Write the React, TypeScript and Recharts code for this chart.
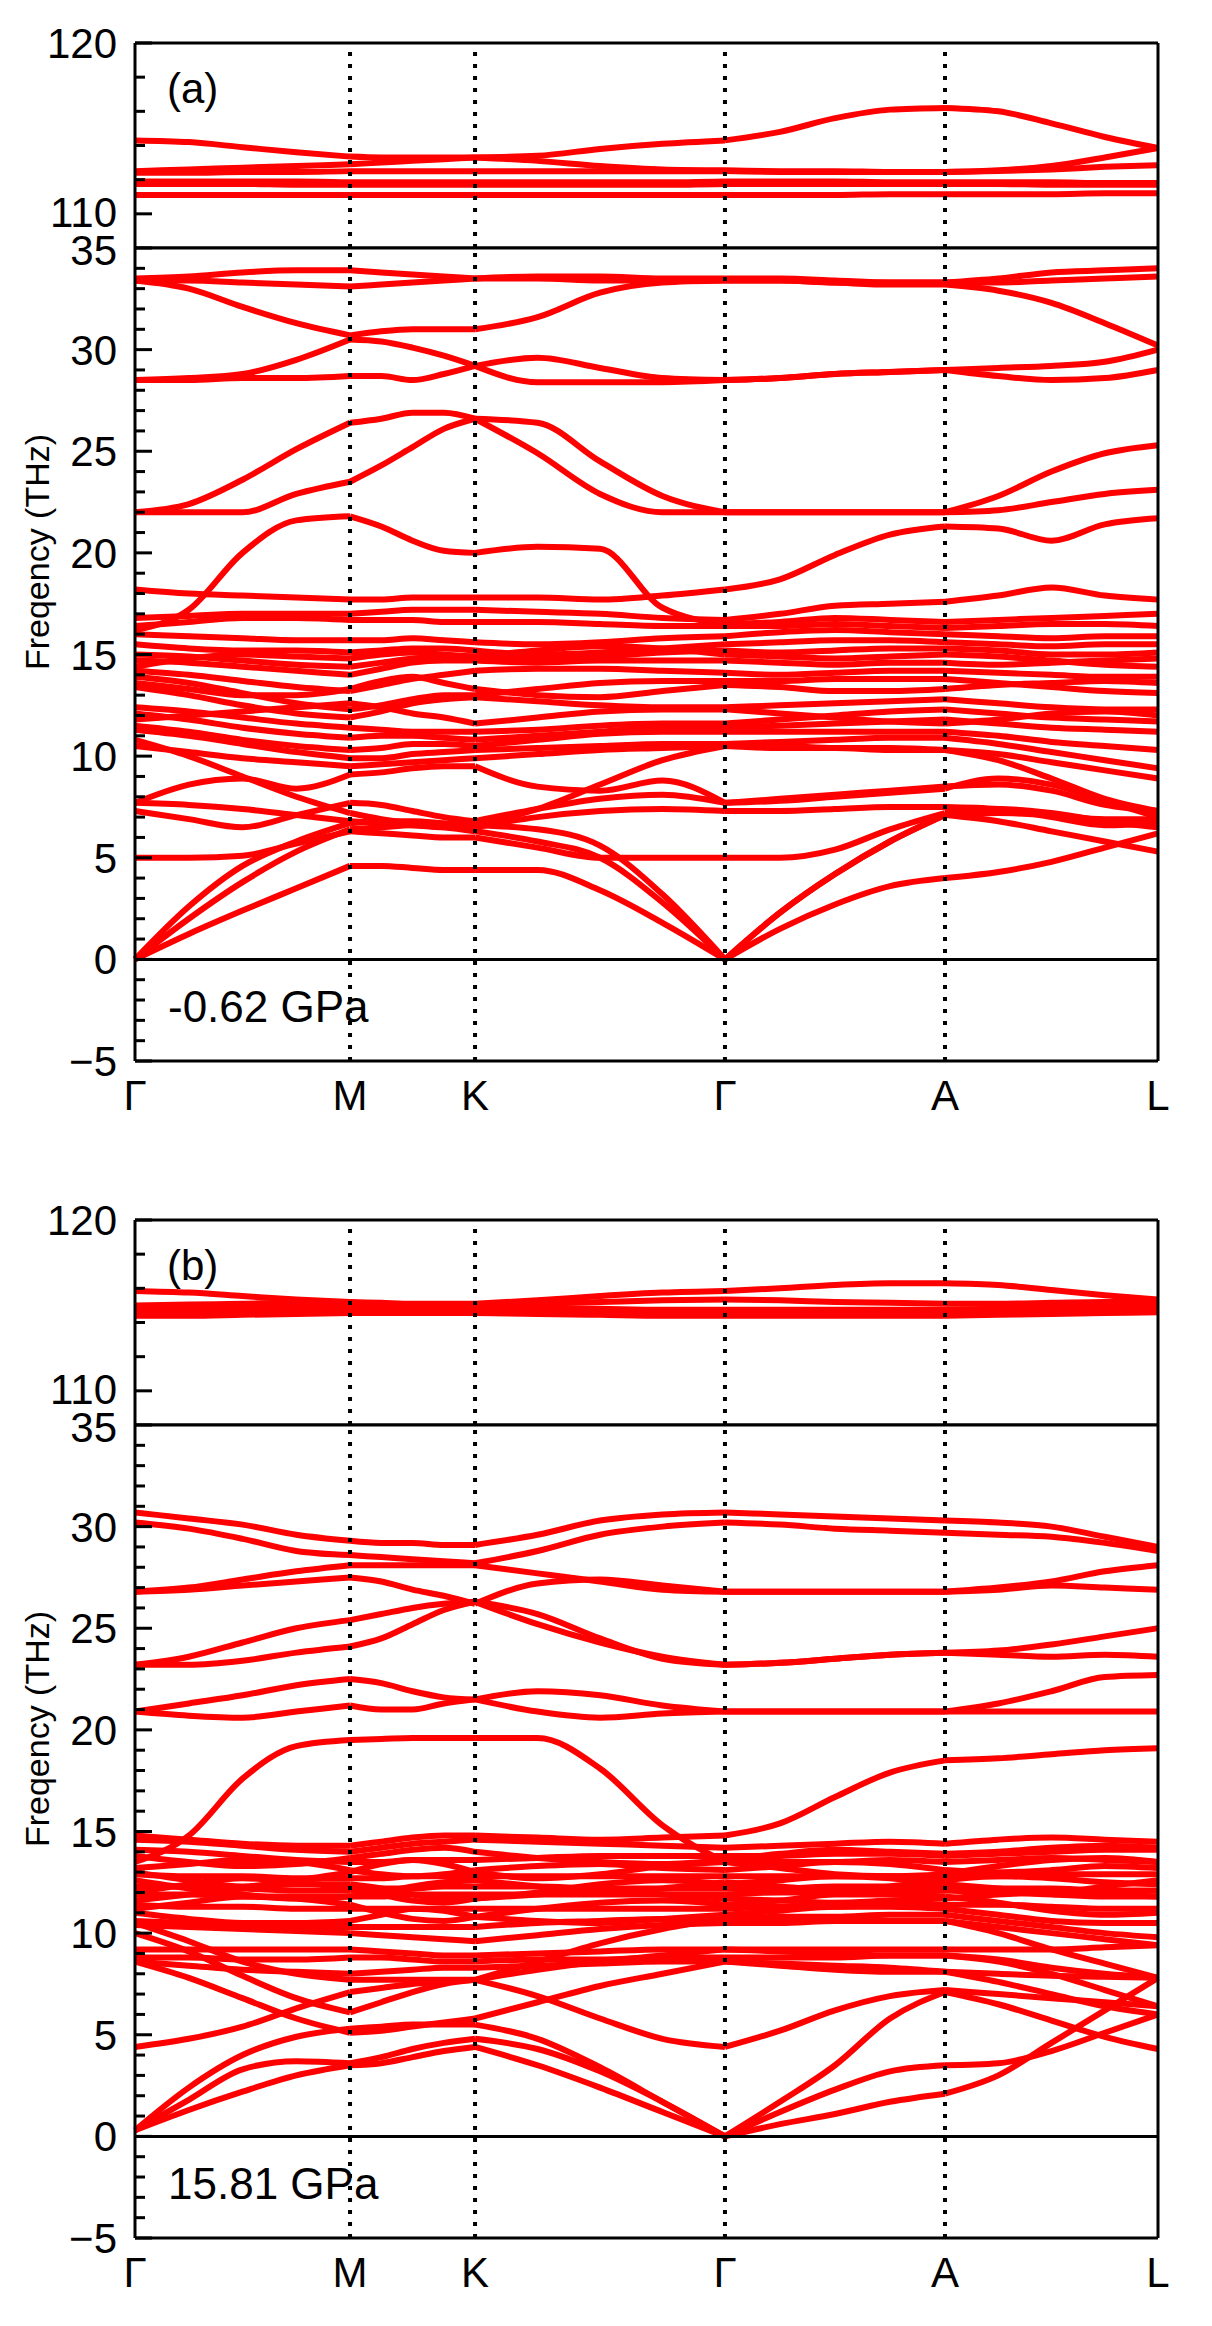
import React from "react";
import { LineChart, Line, XAxis, YAxis, ReferenceLine } from "recharts";

const FONT = "'Liberation Sans', Arial, Helvetica, sans-serif";
const RED = "#ff0000";

// k-path: Γ M K Γ A L, four samples per segment
const kPath = [
  0, 0.0526, 0.1051, 0.1577, 0.2102,
  0.2408, 0.2713, 0.3019, 0.3324,
  0.3935, 0.4546, 0.5156, 0.5767,
  0.6305, 0.6843, 0.738, 0.7918,
  0.8439, 0.8959, 0.948, 1.0,
];
const kTicks = [0, 0.2102, 0.3324, 0.5767, 0.7918, 1.0];
const kLabels = ["Γ", "M", "K", "Γ", "A", "L"];
// first sample index of each path segment (Γ-M, M-K, K-Γ, Γ-A, A-L)
const segStart = [0, 4, 8, 12, 16];

const highTicks = [110, 112, 114, 116, 118, 120];
const highMajor = [110, 120];
const lowTicks = [
  -5, -4, -3, -2, -1, 0, 1, 2, 3, 4, 5, 6, 7, 8, 9, 10, 11, 12, 13, 14, 15,
  16, 17, 18, 19, 20, 21, 22, 23, 24, 25, 26, 27, 28, 29, 30, 31, 32, 33, 34, 35,
];
const lowMajor = [-5, 0, 5, 10, 15, 20, 25, 30, 35];

// ---------- panel (a), -0.62 GPa ----------
const aH1 = [114.3, 114.2, 113.9, 113.6, 113.35, 113.3, 113.3, 113.3, 113.3, 113.4, 113.8, 114.1, 114.3, 114.8, 115.6, 116.1, 116.2, 116.0, 115.3, 114.5, 113.85];
const aH2 = [112.5, 112.6, 112.7, 112.8, 112.9, 113.0, 113.1, 113.2, 113.3, 113.1, 112.8, 112.6, 112.55, 112.5, 112.5, 112.45, 112.45, 112.55, 112.8, 113.3, 113.85];
const aH3 = [112.4, 112.4, 112.45, 112.45, 112.5, 112.5, 112.5, 112.5, 112.5, 112.5, 112.5, 112.5, 112.5, 112.45, 112.45, 112.45, 112.45, 112.5, 112.6, 112.75, 112.85];
const aH4 = [111.9, 111.9, 111.9, 111.9, 111.85, 111.85, 111.85, 111.85, 111.85, 111.85, 111.85, 111.85, 111.9, 111.9, 111.9, 111.85, 111.85, 111.85, 111.85, 111.8, 111.8];
const aH5 = [111.75, 111.75, 111.75, 111.7, 111.7, 111.7, 111.7, 111.7, 111.7, 111.7, 111.7, 111.7, 111.75, 111.75, 111.75, 111.75, 111.75, 111.75, 111.7, 111.7, 111.7];
const aH6 = [111.1, 111.1, 111.1, 111.1, 111.1, 111.1, 111.1, 111.1, 111.1, 111.1, 111.1, 111.1, 111.1, 111.1, 111.1, 111.15, 111.15, 111.15, 111.15, 111.2, 111.2];

const aT1 = [33.5, 33.6, 33.8, 33.9, 33.9, 33.8, 33.7, 33.6, 33.5, 33.6, 33.6, 33.5, 33.5, 33.5, 33.4, 33.3, 33.3, 33.5, 33.8, 33.9, 34.0];
const aT2 = [33.4, 33.4, 33.3, 33.2, 33.1, 33.2, 33.3, 33.4, 33.5, 33.5, 33.4, 33.4, 33.4, 33.4, 33.3, 33.3, 33.3, 33.3, 33.4, 33.5, 33.6];
const aT3 = [33.4, 33.0, 32.1, 31.3, 30.7, 30.9, 31.0, 31.0, 31.0, 31.6, 32.8, 33.3, 33.4, 33.4, 33.3, 33.2, 33.2, 32.9, 32.3, 31.3, 30.2];
const aT4 = [28.5, 28.6, 28.8, 29.5, 30.5, 30.4, 30.1, 29.7, 29.2, 29.6, 29.1, 28.6, 28.5, 28.6, 28.8, 28.9, 29.0, 29.1, 29.2, 29.4, 30.0];
const aT5 = [28.5, 28.5, 28.6, 28.6, 28.7, 28.7, 28.5, 28.8, 29.2, 28.4, 28.4, 28.4, 28.5, 28.6, 28.8, 28.9, 29.0, 28.7, 28.5, 28.6, 29.0];
const aU1 = [22.0, 22.4, 23.6, 25.1, 26.4, 26.6, 26.9, 26.9, 26.6, 24.9, 22.9, 22.0, 22.0, 22.0, 22.0, 22.0, 22.0, 22.8, 24.0, 24.9, 25.3];
const aU2 = [22.0, 22.0, 22.0, 22.9, 23.5, 24.3, 25.2, 26.1, 26.6, 26.4, 24.5, 22.8, 22.0, 22.0, 22.0, 22.0, 22.0, 22.1, 22.5, 22.9, 23.1];
const aC = [16.2, 17.2, 20.0, 21.6, 21.8, 21.3, 20.6, 20.1, 20.0, 20.3, 20.2, 17.3, 16.5, 16.6, 16.8, 16.7, 16.6, 16.7, 16.8, 16.9, 17.0];
const aD = [18.2, 18.0, 17.9, 17.8, 17.7, 17.7, 17.8, 17.8, 17.8, 17.8, 17.7, 17.9, 18.2, 18.7, 19.9, 20.9, 21.3, 21.2, 20.6, 21.4, 21.7];
const aE = [16.8, 16.9, 17.0, 17.0, 17.0, 17.1, 17.2, 17.2, 17.2, 17.1, 17.0, 16.8, 16.7, 17.0, 17.4, 17.5, 17.6, 17.9, 18.3, 17.9, 17.7];

const aM0 = [16.4, 16.6, 16.8, 16.8, 16.7, 16.7, 16.7, 16.6, 16.6, 16.6, 16.5, 16.4, 16.4, 16.4, 16.5, 16.4, 16.3, 16.4, 16.5, 16.5, 16.4];
const aM1 = [16.0, 15.9, 15.8, 15.7, 15.7, 15.7, 15.8, 15.7, 15.6, 15.5, 15.6, 15.8, 15.9, 16.1, 16.2, 16.1, 16.0, 15.9, 15.8, 15.9, 15.9];
const aM2 = [15.5, 15.3, 15.2, 15.2, 15.1, 15.2, 15.3, 15.3, 15.2, 15.0, 15.1, 15.3, 15.5, 15.6, 15.7, 15.7, 15.6, 15.5, 15.4, 15.5, 15.5];
const aM3 = [15.0, 14.9, 14.7, 14.5, 14.4, 14.6, 14.8, 14.9, 14.9, 14.8, 14.9, 15.1, 15.2, 15.1, 15.2, 15.3, 15.3, 15.2, 15.0, 15.0, 15.1];
const aM4 = [14.7, 14.6, 14.4, 14.2, 14.0, 14.3, 14.6, 14.7, 14.7, 14.6, 14.7, 14.7, 14.7, 14.6, 14.5, 14.6, 14.6, 14.5, 14.6, 14.7, 14.8];
const aM5 = [14.2, 14.0, 13.7, 13.4, 13.2, 13.5, 13.8, 14.0, 14.2, 14.3, 14.3, 14.2, 14.1, 14.0, 14.1, 14.2, 14.2, 14.1, 14.0, 13.9, 13.9];
const aM6 = [13.9, 13.6, 13.1, 12.6, 12.3, 12.5, 12.8, 13.0, 13.0, 13.3, 13.6, 13.7, 13.7, 13.7, 13.8, 13.8, 13.8, 13.6, 13.4, 13.2, 13.1];
const aM7 = [13.4, 13.0, 12.5, 12.1, 11.9, 12.2, 12.6, 12.8, 12.9, 12.7, 12.5, 12.4, 12.4, 12.5, 12.6, 12.7, 12.8, 12.6, 12.4, 12.3, 12.3];
const aM8 = [12.4, 12.2, 11.9, 11.6, 11.4, 11.3, 11.2, 11.2, 11.2, 11.3, 11.5, 11.6, 11.6, 11.8, 12.0, 12.2, 12.3, 12.1, 11.9, 11.8, 11.7];
const aM9 = [12.1, 11.8, 11.4, 11.1, 10.9, 11.0, 11.0, 10.9, 10.8, 11.0, 11.2, 11.4, 11.4, 11.5, 11.6, 11.7, 11.8, 11.6, 11.4, 11.3, 11.2];
const aM10 = [11.5, 11.2, 10.8, 10.5, 10.3, 10.4, 10.6, 10.6, 10.5, 10.8, 11.1, 11.2, 11.2, 11.2, 11.2, 11.2, 11.2, 11.0, 10.7, 10.5, 10.3];
const aM11 = [11.3, 11.0, 10.6, 10.2, 9.9, 9.9, 10.1, 10.2, 10.3, 10.4, 10.5, 10.6, 10.6, 10.7, 10.8, 10.9, 10.9, 10.6, 10.2, 9.8, 9.4];
const aM12 = [10.5, 10.2, 9.9, 9.7, 9.5, 9.6, 9.7, 9.8, 9.9, 10.1, 10.3, 10.4, 10.5, 10.4, 10.4, 10.3, 10.3, 10.1, 9.7, 9.3, 8.9];
const aX1 = [14.4, 14.8, 15.0, 14.9, 14.8, 15.0, 15.1, 15.0, 14.9, 15.2, 15.4, 15.3, 15.0, 14.9, 14.8, 14.9, 15.0, 14.9, 14.7, 14.5, 14.4];
const aX2 = [13.6, 13.3, 13.0, 13.0, 13.3, 13.7, 13.9, 13.6, 13.3, 13.0, 12.9, 13.2, 13.5, 13.4, 13.2, 13.2, 13.3, 13.5, 13.6, 13.7, 13.6];
const aX3 = [11.8, 12.0, 12.2, 12.4, 12.6, 12.4, 12.1, 11.9, 11.6, 11.9, 12.2, 12.3, 12.3, 12.1, 11.9, 11.7, 11.6, 11.8, 12.1, 12.2, 12.0];

const aO1 = [5.0, 5.0, 5.1, 5.7, 6.3, 6.2, 6.1, 6.0, 6.0, 5.5, 5.0, 5.0, 5.0, 5.0, 5.4, 6.4, 7.2, 7.4, 7.2, 6.8, 6.5];
const aO2 = [7.3, 6.9, 6.5, 7.1, 7.7, 7.6, 7.3, 7.0, 6.8, 7.4, 7.9, 8.1, 7.7, 7.9, 8.1, 8.3, 8.5, 8.6, 8.3, 7.6, 7.3];
const aO3 = [7.7, 8.6, 8.9, 8.4, 9.1, 9.2, 9.4, 9.5, 9.5, 8.5, 8.3, 8.8, 7.7, 7.8, 8.0, 8.2, 8.4, 8.9, 8.6, 7.8, 7.0];
const aO4 = [7.7, 7.6, 7.4, 7.1, 6.8, 6.7, 6.6, 6.5, 6.5, 7.0, 7.3, 7.4, 7.3, 7.3, 7.4, 7.5, 7.5, 7.4, 7.0, 6.6, 6.7];
const aO5 = [10.8, 10.0, 9.0, 8.0, 7.2, 6.9, 6.7, 6.6, 6.6, 7.4, 8.6, 9.8, 10.5, 10.5, 10.4, 10.4, 10.3, 9.8, 8.9, 7.9, 7.3];
const aL1 = [0, 1.25, 2.4, 3.5, 4.6, 4.6, 4.5, 4.4, 4.4, 4.4, 3.4, 1.8, 0, 1.5, 2.7, 3.6, 4.0, 4.3, 4.8, 5.5, 6.2];
const aL2 = [0, 2.0, 3.8, 5.3, 6.4, 6.5, 6.6, 6.5, 6.3, 5.8, 5.0, 2.8, 0, 2.3, 4.2, 5.8, 7.1, 7.2, 7.1, 6.9, 6.9];
const aL3 = [0, 2.6, 4.6, 5.8, 6.7, 6.8, 6.8, 6.7, 6.6, 6.4, 5.6, 3.2, 0, 2.3, 4.2, 5.8, 7.1, 6.8, 6.3, 5.8, 5.3];

// ---------- panel (b), 15.81 GPa ----------
const bH1 = [115.85, 115.75, 115.55, 115.35, 115.2, 115.15, 115.1, 115.1, 115.1, 115.3, 115.55, 115.75, 115.85, 116.0, 116.2, 116.3, 116.3, 116.2, 115.9, 115.6, 115.35];
const bH2 = [115.0, 115.05, 115.1, 115.15, 115.15, 115.1, 115.05, 115.0, 115.0, 115.1, 115.2, 115.3, 115.35, 115.3, 115.2, 115.15, 115.1, 115.1, 115.15, 115.2, 115.2];
const bH3 = [114.75, 114.75, 114.8, 114.85, 114.9, 114.9, 114.9, 114.9, 114.9, 114.85, 114.8, 114.75, 114.75, 114.75, 114.75, 114.75, 114.75, 114.8, 114.85, 114.9, 114.95];
const bH4 = [114.55, 114.55, 114.6, 114.65, 114.7, 114.7, 114.7, 114.7, 114.7, 114.65, 114.6, 114.55, 114.55, 114.55, 114.55, 114.55, 114.55, 114.6, 114.65, 114.7, 114.75];
const bH5 = [114.4, 114.4, 114.45, 114.5, 114.55, 114.55, 114.55, 114.55, 114.55, 114.5, 114.45, 114.4, 114.4, 114.4, 114.4, 114.4, 114.4, 114.45, 114.5, 114.55, 114.6];

const bT1 = [30.7, 30.4, 30.1, 29.6, 29.3, 29.2, 29.2, 29.1, 29.1, 29.6, 30.3, 30.6, 30.7, 30.6, 30.5, 30.4, 30.3, 30.2, 30.0, 29.5, 29.0];
const bT2 = [30.2, 29.9, 29.4, 28.8, 28.6, 28.5, 28.4, 28.3, 28.2, 28.8, 29.6, 30.0, 30.2, 30.1, 29.9, 29.8, 29.7, 29.6, 29.5, 29.2, 28.8];
const bT3 = [26.8, 27.0, 27.4, 27.8, 28.1, 28.1, 28.1, 28.1, 28.1, 27.7, 27.3, 26.9, 26.8, 26.8, 26.8, 26.8, 26.8, 27.0, 27.3, 27.8, 28.1];
const bT4 = [26.8, 26.9, 27.1, 27.3, 27.5, 27.3, 26.9, 26.6, 26.2, 27.2, 27.4, 27.1, 26.8, 26.8, 26.8, 26.8, 26.8, 26.9, 27.1, 27.0, 26.9];
const bT5 = [23.2, 23.6, 24.3, 25.0, 25.4, 25.7, 26.0, 26.2, 26.3, 25.2, 24.3, 23.6, 23.2, 23.3, 23.5, 23.7, 23.8, 23.9, 24.2, 24.6, 25.0];
const bT6 = [23.2, 23.2, 23.4, 23.8, 24.1, 24.5, 25.2, 25.9, 26.3, 25.7, 24.5, 23.5, 23.2, 23.3, 23.5, 23.7, 23.8, 23.7, 23.6, 23.7, 23.6];
const bT7 = [20.9, 21.3, 21.7, 22.2, 22.5, 22.3, 21.9, 21.6, 21.5, 21.9, 21.7, 21.2, 20.9, 20.9, 20.9, 20.9, 20.9, 21.3, 21.9, 22.6, 22.7];
const bT8 = [20.9, 20.7, 20.6, 20.9, 21.2, 21.0, 21.0, 21.3, 21.5, 20.9, 20.6, 20.8, 20.9, 20.9, 20.9, 20.9, 20.9, 20.9, 20.9, 20.9, 20.9];
const bP9 = [13.5, 14.8, 17.6, 19.2, 19.5, 19.55, 19.6, 19.6, 19.6, 19.6, 18.1, 15.3, 13.5, 13.5, 13.5, 13.6, 13.5, 13.6, 13.7, 13.6, 13.5];
const bP10 = [14.8, 14.6, 14.4, 14.3, 14.3, 14.5, 14.7, 14.8, 14.8, 14.7, 14.6, 14.7, 14.8, 15.4, 16.7, 17.9, 18.5, 18.6, 18.8, 19.0, 19.1];

const bM0 = [14.6, 14.5, 14.3, 14.1, 14.0, 14.2, 14.4, 14.5, 14.6, 14.5, 14.4, 14.3, 14.2, 14.3, 14.4, 14.5, 14.4, 14.6, 14.7, 14.6, 14.5];
const bM1 = [14.1, 14.0, 13.8, 13.6, 13.5, 13.5, 13.6, 13.6, 13.6, 13.7, 13.8, 13.8, 13.8, 13.8, 13.9, 13.9, 13.8, 13.9, 14.0, 14.1, 14.1];
const bM2 = [13.2, 13.4, 13.6, 13.5, 13.1, 12.9, 12.8, 12.9, 13.1, 13.3, 13.4, 13.2, 13.1, 13.3, 13.5, 13.4, 13.1, 13.0, 13.1, 13.3, 13.2];
const bM3 = [12.9, 12.8, 12.8, 12.7, 12.7, 12.7, 12.8, 12.8, 12.8, 12.8, 12.8, 12.8, 12.8, 12.8, 12.8, 12.8, 12.8, 12.8, 12.9, 12.9, 12.9];
const bM4 = [12.6, 12.2, 11.9, 11.7, 11.8, 12.0, 12.3, 12.5, 12.6, 12.3, 12.0, 12.2, 12.5, 12.3, 12.1, 12.3, 12.6, 12.8, 12.7, 12.5, 12.4];
const bM5 = [12.3, 12.3, 12.2, 12.1, 12.1, 12.2, 12.2, 12.3, 12.3, 12.3, 12.2, 12.2, 12.2, 12.2, 12.3, 12.3, 12.3, 12.2, 12.2, 12.1, 12.1];
const bM6 = [11.9, 11.9, 11.8, 11.8, 11.8, 11.8, 11.9, 11.9, 11.9, 11.9, 11.9, 11.9, 11.9, 12.0, 12.0, 12.1, 12.1, 12.0, 11.9, 11.8, 11.8];
const bM7 = [11.6, 11.9, 12.2, 12.4, 12.4, 12.2, 11.9, 11.7, 11.7, 11.9, 12.1, 11.9, 11.7, 11.6, 11.5, 11.6, 11.7, 11.9, 12.0, 11.9, 11.8];
const bM8 = [11.4, 11.3, 11.3, 11.2, 11.2, 11.2, 11.2, 11.2, 11.2, 11.2, 11.2, 11.2, 11.2, 11.3, 11.3, 11.4, 11.4, 11.4, 11.3, 11.2, 11.2];
const bM9 = [11.0, 10.7, 10.5, 10.5, 10.6, 10.9, 11.2, 11.1, 10.8, 10.6, 10.5, 10.7, 10.9, 11.1, 11.3, 11.3, 11.2, 10.9, 10.6, 10.5, 10.5];
const bM10 = [10.6, 10.5, 10.4, 10.3, 10.3, 10.3, 10.3, 10.3, 10.3, 10.5, 10.6, 10.7, 10.7, 10.8, 10.8, 10.9, 10.9, 10.6, 10.3, 10.0, 9.8];
const bM11 = [10.4, 10.3, 10.2, 10.1, 10.0, 9.9, 9.8, 9.7, 9.6, 9.9, 10.2, 10.4, 10.5, 10.5, 10.6, 10.6, 10.6, 10.3, 10.0, 9.7, 9.4];
const bX1 = [13.0, 12.6, 12.3, 12.6, 13.0, 13.4, 13.6, 13.4, 13.0, 12.7, 12.9, 13.3, 13.5, 13.2, 12.9, 12.8, 12.9, 13.3, 13.6, 13.7, 13.5];
const bX2 = [12.0, 12.4, 12.7, 12.5, 12.2, 11.9, 11.6, 11.5, 11.7, 12.0, 12.4, 12.6, 12.4, 12.6, 12.8, 12.7, 12.4, 12.2, 12.0, 12.3, 12.6];
const bX3 = [11.2, 11.5, 11.8, 11.7, 11.4, 11.0, 10.7, 10.6, 10.8, 11.2, 11.5, 11.6, 11.4, 11.6, 11.9, 11.9, 11.8, 11.5, 11.1, 10.9, 11.0];
const bX4 = [13.8, 13.5, 13.3, 13.4, 13.7, 13.9, 14.1, 14.2, 14.0, 13.7, 13.5, 13.4, 13.6, 13.9, 14.1, 14.0, 13.9, 14.0, 14.2, 14.3, 14.2];

const bO1 = [9.2, 9.2, 9.2, 9.2, 9.2, 9.1, 9.0, 8.9, 8.9, 9.0, 9.1, 9.2, 9.2, 9.2, 9.2, 9.2, 9.2, 9.2, 9.2, 9.3, 9.4];
const bO2 = [8.8, 8.8, 8.7, 8.7, 8.8, 8.8, 8.7, 8.6, 8.6, 8.7, 8.7, 8.8, 8.8, 8.8, 8.8, 8.9, 8.9, 8.6, 8.0, 7.2, 6.4];
const bO3 = [8.6, 8.4, 8.2, 8.1, 8.0, 8.1, 8.2, 8.3, 8.3, 8.4, 8.5, 8.6, 8.6, 8.5, 8.4, 8.3, 8.1, 7.6, 7.0, 6.4, 6.0];
const bO4 = [10.5, 9.6, 8.6, 8.0, 7.7, 7.7, 7.7, 7.7, 7.7, 8.6, 9.5, 10.2, 10.7, 10.7, 10.7, 10.6, 10.6, 10.0, 9.2, 8.5, 7.8];
const bD1 = [8.6, 7.8, 6.8, 5.8, 5.1, 5.2, 5.4, 5.6, 5.8, 6.6, 7.4, 8.0, 8.6, 8.4, 8.2, 8.1, 8.1, 8.0, 7.9, 7.85, 7.8];
const bD2 = [10.0, 9.1, 7.9, 6.8, 6.1, 6.6, 7.1, 7.5, 7.7, 8.2, 8.6, 8.9, 9.2, 9.1, 9.0, 8.9, 8.9, 8.7, 8.3, 8.0, 7.8];
const bO5 = [4.4, 4.8, 5.4, 6.3, 7.1, 7.3, 7.5, 7.6, 7.7, 6.9, 5.8, 4.8, 4.4, 5.2, 6.2, 6.9, 7.2, 7.0, 6.8, 6.6, 6.4];
const bA1 = [0.3, 1.3, 2.2, 3.0, 3.5, 3.6, 3.9, 4.2, 4.4, 3.5, 2.4, 1.2, 0, 0.6, 1.1, 1.7, 2.1, 3.0, 4.6, 6.2, 7.8];
const bA2 = [0.3, 1.8, 3.3, 3.7, 3.6, 3.9, 4.3, 4.6, 4.8, 4.3, 3.2, 1.7, 0, 1.2, 2.3, 3.2, 3.5, 3.6, 4.2, 5.1, 6.0];
const bA3 = [0.3, 2.4, 4.0, 4.9, 5.3, 5.4, 5.5, 5.5, 5.5, 4.8, 3.4, 1.7, 0, 1.7, 3.5, 5.8, 7.1, 6.5, 5.7, 4.9, 4.3];

const highA = [aH1, aH2, aH3, aH4, aH5, aH6];
const lowA = [
  aT1, aT2, aT3, aT4, aT5, aU1, aU2, aC, aD, aE,
  aM0, aM1, aM2, aM3, aM4, aM5, aM6, aM7, aM8, aM9, aM10, aM11, aM12,
  aX1, aX2, aX3,
  aO1, aO2, aO3, aO4, aO5, aL1, aL2, aL3,
];
const highB = [bH1, bH2, bH3, bH4, bH5];
const lowB = [
  bT1, bT2, bT3, bT4, bT5, bT6, bT7, bT8, bP9, bP10,
  bM0, bM1, bM2, bM3, bM4, bM5, bM6, bM7, bM8, bM9, bM10, bM11,
  bX1, bX2, bX3, bX4,
  bO1, bO2, bO3, bO4, bD1, bD2, bO5, bA1, bA2, bA3,
];

// one key per band and path segment, so each segment is smoothed on its own
function toRows(bands: number[][]) {
  return kPath.map((k, i) => {
    const row: Record<string, number | null> = { k };
    bands.forEach((b, j) => {
      segStart.forEach((s, n) => {
        row[`b${j}_${n}`] = i >= s && i <= s + 4 ? b[i] : null;
      });
    });
    return row;
  });
}

const fmt = (v: number) => (v < 0 ? "\u2212" + Math.abs(v) : String(v));

function LeftTick(props: any) {
  const { x, y, payload, majors } = props;
  const v = payload.value;
  const major = majors.includes(v);
  const dy = v === 110 ? 13 : v === 35 ? 17 : 15;
  return (
    <g>
      <line x1={x} x2={x + (major ? 17 : 10)} y1={y} y2={y} stroke="#000" strokeWidth={3} />
      {major && (
        <text x={x - 18} y={y + dy} textAnchor="end" fontSize={42} fontFamily={FONT} fill="#000">
          {fmt(v)}
        </text>
      )}
    </g>
  );
}

function RightTick(props: any) {
  const { x, y, payload, majors } = props;
  const major = majors.includes(payload.value);
  return <line x1={x} x2={x - (major ? 15 : 9)} y1={y} y2={y} stroke="#000" strokeWidth={3} />;
}

function BottomTick(props: any) {
  const { x, y, payload } = props;
  const i = kTicks.indexOf(payload.value);
  return (
    <text x={x} y={y + 49} textAnchor="middle" fontSize={42} fontFamily={FONT} fill="#000">
      {kLabels[i]}
    </text>
  );
}

const frame = { stroke: "#000", strokeWidth: 3 };

function bandLines(bands: number[][]) {
  const out: React.ReactNode[] = [];
  bands.forEach((_, j) => {
    segStart.forEach((_s, n) => {
      out.push(
        <Line
          key={`${j}_${n}`}
          yAxisId="l"
          dataKey={`b${j}_${n}`}
          type="monotone"
          stroke={RED}
          strokeWidth={6}
          dot={false}
          activeDot={false}
          connectNulls={false}
          isAnimationActive={false}
        />
      );
    });
  });
  return out;
}

function dotted() {
  return kTicks.slice(1, 5).map((x) => (
    <ReferenceLine key={x} x={x} yAxisId="l" stroke="#000" strokeWidth={4} strokeDasharray="4 8" ifOverflow="visible" />
  ));
}

function Panel({ top, high, low }: { top: number; high: number[][]; low: number[][] }) {
  return (
    <>
      <div style={{ position: "absolute", left: 0, top: top + 13 }}>
        <LineChart width={1212} height={235} data={toRows(high)} margin={{ top: 30, right: 53, bottom: 0, left: 35 }}>
          <XAxis dataKey="k" type="number" domain={[0, 1]} hide />
          <YAxis
            yAxisId="l"
            type="number"
            domain={[108, 120]}
            ticks={highTicks}
            interval={0}
            width={100}
            tickSize={0}
            tickMargin={0}
            tickLine={false}
            axisLine={frame}
            tick={(p: any) => <LeftTick {...p} majors={highMajor} />}
          />
          <YAxis
            yAxisId="r"
            orientation="right"
            type="number"
            domain={[108, 120]}
            ticks={highTicks}
            interval={0}
            width={1}
            tickSize={0}
            tickMargin={0}
            tickLine={false}
            axisLine={frame}
            tick={(p: any) => <RightTick {...p} majors={highMajor} />}
          />
          {bandLines(high)}
          {dotted()}
          <ReferenceLine yAxisId="l" y={120} {...frame} ifOverflow="visible" />
          <ReferenceLine yAxisId="l" y={108} {...frame} ifOverflow="visible" />
        </LineChart>
      </div>
      <div style={{ position: "absolute", left: 0, top: top + 218 }}>
        <LineChart width={1212} height={913} data={toRows(low)} margin={{ top: 30, right: 53, bottom: 69, left: 35 }}>
          <XAxis
            dataKey="k"
            type="number"
            domain={[0, 1]}
            ticks={kTicks}
            interval={0}
            height={1}
            tickSize={0}
            tickMargin={0}
            tickLine={false}
            axisLine={frame}
            tick={(p: any) => <BottomTick {...p} />}
          />
          <YAxis
            yAxisId="l"
            type="number"
            domain={[-5, 35]}
            ticks={lowTicks}
            interval={0}
            width={100}
            tickSize={0}
            tickMargin={0}
            tickLine={false}
            axisLine={frame}
            tick={(p: any) => <LeftTick {...p} majors={lowMajor} />}
          />
          <YAxis
            yAxisId="r"
            orientation="right"
            type="number"
            domain={[-5, 35]}
            ticks={lowTicks}
            interval={0}
            width={1}
            tickSize={0}
            tickMargin={0}
            tickLine={false}
            axisLine={frame}
            tick={(p: any) => <RightTick {...p} majors={lowMajor} />}
          />
          {bandLines(low)}
          {dotted()}
          <ReferenceLine yAxisId="l" y={35} {...frame} ifOverflow="visible" />
          <ReferenceLine yAxisId="l" y={0} {...frame} ifOverflow="visible" />
        </LineChart>
      </div>
    </>
  );
}

export default function App() {
  const txt = { fontFamily: FONT, fill: "#000" };
  return (
    <div style={{ position: "absolute", left: 0, top: 0, width: 1212, height: 2326, background: "#fff" }}>
      <Panel top={0} high={highA} low={lowA} />
      <Panel top={1177} high={highB} low={lowB} />
      <svg width={1212} height={2326} style={{ position: "absolute", left: 0, top: 0, pointerEvents: "none" }}>
        <text x={167} y={103} fontSize={42} {...txt}>(a)</text>
        <text x={167} y={1280} fontSize={42} {...txt}>(b)</text>
        <text x={168} y={1022} fontSize={44} {...txt}>-0.62 GPa</text>
        <text x={168} y={2199} fontSize={44} {...txt}>15.81 GPa</text>
        <text transform="translate(49,552) rotate(-90)" textAnchor="middle" fontSize={34} {...txt}>
          Freqency (THz)
        </text>
        <text transform="translate(49,1729) rotate(-90)" textAnchor="middle" fontSize={34} {...txt}>
          Freqency (THz)
        </text>
      </svg>
    </div>
  );
}
